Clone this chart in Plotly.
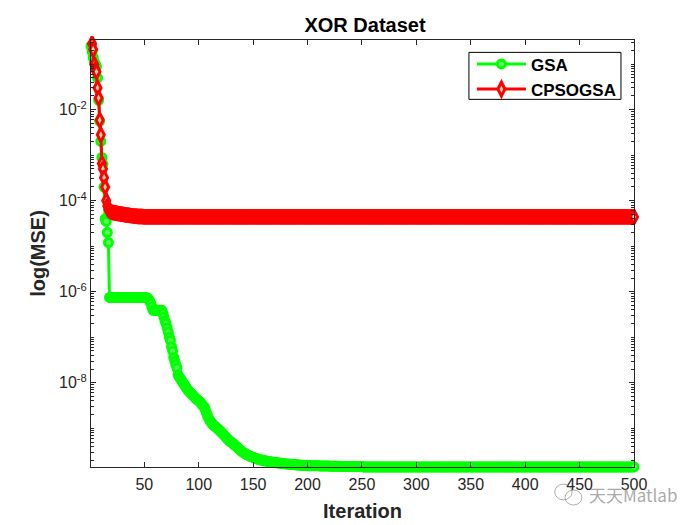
import plotly.graph_objects as go

# GSA, una lectura por iteración
gsa_inicio = [0.25, 0.19, 0.14, 0.11, 0.10, 0.089, 0.05, 0.016, 5.6e-3, 2.0e-3, 8.9e-4, 6.3e-4, 2.0e-4,
              4.0e-5, 3.5e-5, 2.0e-5, 1.2e-5]
gsa_meseta = [7.5e-7] * 35
gsa_caida = [7.2e-7, 6.8e-7, 6.2e-7, 5.5e-7, 4.6e-7, 3.9e-7] + [3.9e-7] * 8 + [
    3.4e-7, 2.8e-7, 2.3e-7, 2.0e-7, 1.6e-7, 1.3e-7, 1.0e-7, 8.5e-8, 6.2e-8, 5.0e-8, 3.6e-8, 3.0e-8, 2.5e-8,
    2.1e-8, 1.5e-8, 1.35e-8, 1.25e-8, 1.15e-8, 1.05e-8, 9.6e-9, 8.9e-9, 8.2e-9, 7.5e-9, 6.9e-9, 6.5e-9,
    6.2e-9, 5.8e-9, 5.5e-9, 5.2e-9, 4.9e-9, 4.6e-9, 4.4e-9, 4.2e-9, 4.0e-9, 3.8e-9, 3.6e-9, 3.3e-9, 3.1e-9,
    2.95e-9, 2.6e-9, 2.2e-9, 1.9e-9, 1.7e-9, 1.5e-9, 1.4e-9, 1.3e-9, 1.2e-9, 1.15e-9, 1.1e-9, 1.05e-9,
    1.0e-9, 9.5e-10, 9.1e-10, 8.6e-10, 8.1e-10, 7.6e-10, 7.2e-10, 6.8e-10, 6.4e-10, 6.0e-10, 5.7e-10,
    5.3e-10, 5.1e-10, 4.9e-10, 4.8e-10, 4.5e-10, 4.3e-10, 4.1e-10, 3.9e-10, 3.7e-10, 3.5e-10, 3.35e-10,
    3.2e-10, 3.05e-10, 2.95e-10, 2.85e-10, 2.75e-10, 2.65e-10, 2.6e-10, 2.5e-10, 2.45e-10, 2.4e-10,
    2.35e-10, 2.3e-10, 2.25e-10, 2.2e-10, 2.16e-10, 2.12e-10, 2.08e-10, 2.05e-10, 2.02e-10, 2.0e-10,
    1.97e-10, 1.95e-10, 1.93e-10, 1.91e-10, 1.89e-10, 1.87e-10, 1.85e-10, 1.84e-10, 1.82e-10, 1.80e-10,
    1.79e-10, 1.77e-10, 1.76e-10, 1.75e-10, 1.74e-10, 1.72e-10, 1.71e-10, 1.70e-10, 1.69e-10, 1.68e-10,
    1.67e-10, 1.66e-10, 1.65e-10, 1.64e-10, 1.63e-10, 1.62e-10, 1.61e-10, 1.60e-10, 1.60e-10, 1.59e-10,
    1.58e-10, 1.58e-10, 1.57e-10, 1.56e-10, 1.56e-10, 1.55e-10, 1.55e-10, 1.54e-10, 1.54e-10, 1.53e-10,
    1.53e-10, 1.52e-10]
gsa_cola = [1.51e-10] * 10 + [1.49e-10] * 10 + [1.47e-10] * 10 + [1.45e-10] * 20 + [1.42e-10] * 250
gsa = gsa_inicio + gsa_meseta + gsa_caida + gsa_cola

# CPSOGSA
cpso_inicio = [0.35, 0.28, 0.21, 0.098, 0.076, 0.068, 0.03, 0.018, 5.9e-3, 2.8e-3, 6.6e-4, 5.0e-4, 3.2e-4,
               2.0e-4, 1.0e-4, 7.6e-5, 6.3e-5, 6.0e-5, 5.8e-5, 5.6e-5]
cpso_baja = [5.5e-5, 5.4e-5, 5.4e-5, 5.3e-5, 5.3e-5, 5.2e-5, 5.2e-5, 5.1e-5, 5.1e-5, 5.0e-5, 5.0e-5, 4.9e-5,
             4.9e-5, 4.8e-5, 4.8e-5, 4.8e-5, 4.7e-5, 4.7e-5, 4.7e-5, 4.6e-5, 4.6e-5, 4.6e-5, 4.6e-5, 4.5e-5,
             4.5e-5, 4.5e-5, 4.5e-5, 4.5e-5, 4.4e-5, 4.4e-5]
cpso_cola = [4.4e-5] * 450
cpso = cpso_inicio + cpso_baja + cpso_cola

iter_gsa = list(range(1, len(gsa) + 1))
iter_cpso = list(range(1, len(cpso) + 1))

x_ticks = [50, 100, 150, 200, 250, 300, 350, 400, 450, 500]
y_exps = [-2, -4, -6, -8]
y_ticks = [10.0 ** e for e in y_exps]
y_labels = ['10<sup>%d</sup>' % e for e in y_exps]
y_minor = [m * 10.0 ** e for e in range(-10, 0) for m in range(1, 10)]

FUENTE = 'Liberation Sans'
GRIS = '#262626'

fig = go.Figure()
fig.add_trace(go.Scatter(x=iter_gsa, y=gsa, name='GSA', mode='lines+markers', cliponaxis=False,
                         line=dict(color='#00ff00', width=3),
                         marker=dict(symbol='circle', size=8, color='#60ff60',
                                     line=dict(color='#00ff00', width=3))))
fig.add_trace(go.Scatter(x=iter_cpso, y=cpso, name='CPSOGSA', mode='lines+markers', cliponaxis=False,
                         line=dict(color='#ff0000', width=3),
                         marker=dict(symbol='diamond-tall', size=10, color='#d8d8a0',
                                     line=dict(color='#ff0000', width=3))))

fig.update_layout(
    width=700, height=525, margin=dict(l=83, r=74, t=31.5, b=66),
    paper_bgcolor='white', plot_bgcolor='white',
    font=dict(family=FUENTE, size=16, color=GRIS),
    title=dict(text='<b>XOR Dataset</b>', font=dict(size=20, color='black'),
               x=0.51, xanchor='center', y=0.968, yanchor='middle'),
    legend=dict(x=0.7015, y=0.985, xanchor='left', yanchor='top', borderwidth=0,
                bgcolor='rgba(0,0,0,0)', itemwidth=49, tracegroupgap=0,
                font=dict(size=17, color='black', weight='bold')),
    # marca de agua
    annotations=[dict(text='天天Matlab', xref='paper', yref='paper', x=1.083, y=-0.065, xanchor='right',
                      yanchor='middle', showarrow=False,
                      font=dict(family='Noto Sans CJK SC', size=17, color='rgba(120,120,120,0.65)'))],
    shapes=[dict(type='circle', xref='paper', yref='paper', x0=0.854, x1=0.886, y0=-0.077, y1=-0.04,
                 line=dict(color='rgba(120,120,120,0.6)', width=1)),
            dict(type='circle', xref='paper', yref='paper', x0=0.873, x1=0.904, y0=-0.089, y1=-0.054,
                 line=dict(color='rgba(120,120,120,0.6)', width=1)),
            # caja de la leyenda
            dict(type='rect', xref='paper', yref='paper', x0=0.696, x1=0.976, y0=0.861, y1=0.971,
                 fillcolor='white', line=dict(color='black', width=1))],
)
fig.update_xaxes(range=[1, 500], tickvals=x_ticks, ticks='inside', ticklen=5, tickcolor=GRIS,
                 showgrid=False, zeroline=False, showline=True, linecolor=GRIS, linewidth=1, mirror='ticks',
                 ticklabelstandoff=3,
                 title=dict(text='<b>Iteration</b>', font=dict(size=20), standoff=11))
fig.update_yaxes(type='log', range=[-9.85, -0.47], tickvals=y_ticks, ticktext=y_labels, ticks='inside',
                 ticklen=5, tickcolor=GRIS, showgrid=False, zeroline=False, showline=True, linecolor=GRIS,
                 linewidth=1, mirror='ticks',
                 minor=dict(tickvals=y_minor, ticks='inside', ticklen=3, tickcolor=GRIS, showgrid=False),
                 title=dict(text='<b>log(MSE)</b>', font=dict(size=20), standoff=8))
fig.write_html("out.html")
